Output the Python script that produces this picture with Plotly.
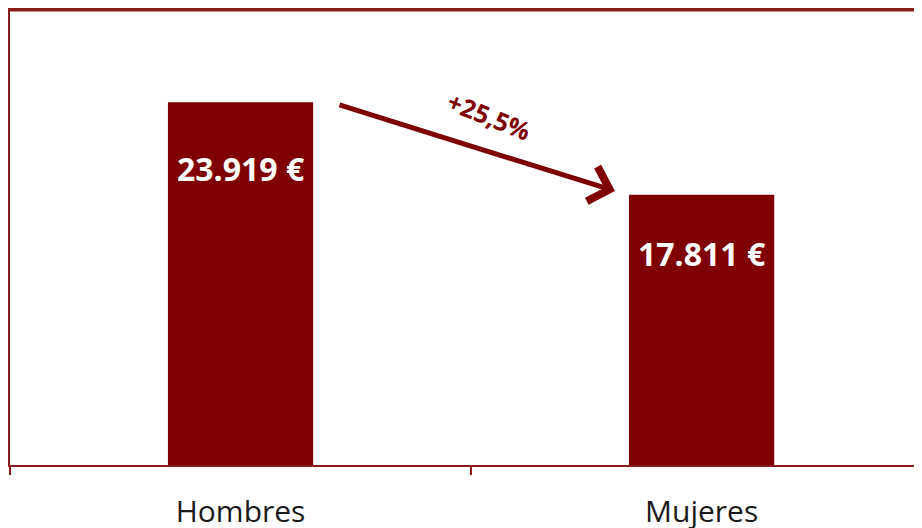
import plotly.graph_objects as go

# datos
categorias = ["Hombres", "Mujeres"]
salarios = [23919, 17811]
etiquetas = ["23.919 €", "17.811 €"]
diferencia = "+25,5%"

ROJO = "#7f0000"
MARCO = "#8b1a1a"

fig = go.Figure()
fig.add_trace(go.Bar(
    x=categorias, y=salarios,
    marker=dict(color=ROJO, line=dict(width=0)),
    width=0.315,
    hoverinfo="skip",
))

# etiquetas blancas dentro de las barras
for cat, val, txt, desp in zip(categorias, salarios, etiquetas, [-66, -59]):
    fig.add_annotation(
        x=cat, y=val, yshift=desp, text=txt, showarrow=False,
        font=dict(family="Open Sans", size=32, color="white", weight="bold"),
    )

# flecha entre barras
fig.add_annotation(
    x=0.812, y=salarios[1] + 250, xref="x", yref="y",
    ax=0.2115, ay=salarios[0] - 150, axref="x", ayref="y",
    showarrow=True, arrowhead=4, arrowsize=1.4, arrowwidth=5,
    arrowcolor=ROJO, text="", standoff=0,
)
fig.add_annotation(
    x=0.541, y=(465 - 115) / 456 * 30000, text=diferencia, showarrow=False,
    textangle=22,
    font=dict(family="Open Sans", size=25, color=ROJO, weight="bold"),
)

# la página añade 8 px de margen, por eso 914x520
fig.update_layout(
    width=914, height=520,
    margin=dict(l=2, r=0, t=2, b=63),
    paper_bgcolor="white", plot_bgcolor="white",
    showlegend=False,
    xaxis=dict(
        automargin=False,
        range=[-0.5, 1.478],
        showline=True, linecolor=MARCO, linewidth=2, mirror=True,
        ticks="outside", tickson="boundaries", ticklen=8, tickwidth=2,
        tickcolor=MARCO, ticklabelstandoff=19,
        tickfont=dict(family="Open Sans", size=30, color="#1a1a1a"),
        showgrid=False,
    ),
    yaxis=dict(
        automargin=False,
        range=[0, 30000], showline=True, linecolor=MARCO, linewidth=3,
        showgrid=False, zeroline=False, showticklabels=False, ticks="",
    ),
)

# línea superior del marco algo más gruesa
fig.add_shape(type="line", xref="paper", yref="paper", x0=0, x1=1, y0=1, y1=1,
              line=dict(color=MARCO, width=3))

fig.write_html("out.html")
